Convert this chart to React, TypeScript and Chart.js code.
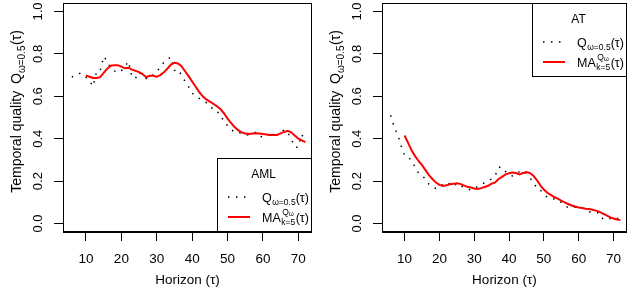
import React, { useEffect, useRef } from "react";
import { Chart, registerables } from "chart.js";

Chart.register(...registerables);

const FONT = "'Liberation Sans', Arial, Helvetica, sans-serif";

// Horizons (tau) for the raw quality series and for the moving average (k = 5)
const horizonsQ = [
  6, 7, 8, 9, 10, 11, 12, 13, 14, 15, 16, 17, 18, 19, 20, 21, 22, 23, 24, 25,
  26, 27, 28, 29, 30, 31, 32, 33, 34, 35, 36, 37, 38, 39, 40, 41, 42, 43, 44, 45,
  46, 47, 48, 49, 50, 51, 52, 53, 54, 55, 56, 57, 58, 59, 60, 61, 62, 63, 64, 65,
  66, 67, 68, 69, 70, 71, 72,
];
const horizonsMA = [
  10, 11, 12, 13, 14, 15, 16, 17, 18, 19, 20, 21, 22, 23, 24, 25,
  26, 27, 28, 29, 30, 31, 32, 33, 34, 35, 36, 37, 38, 39, 40, 41, 42, 43, 44, 45,
  46, 47, 48, 49, 50, 51, 52, 53, 54, 55, 56, 57, 58, 59, 60, 61, 62, 63, 64, 65,
  66, 67, 68, 69, 70, 71, 72,
];

// AML panel
const amlQ = [
  0.69, 0.70, 0.707, 0.707, 0.69, 0.672, 0.647, 0.718, 0.72, 0.788,
  0.765, 0.733, 0.72, 0.712, 0.72, 0.74, 0.765, 0.69, 0.685, 0.714,
  0.695, 0.684, 0.70, 0.70, 0.715, 0.74, 0.76, 0.775, 0.785, 0.722,
  0.727, 0.70, 0.67, 0.645, 0.615, 0.60, 0.59, 0.58, 0.57, 0.55,
  0.54, 0.535, 0.50, 0.49, 0.46, 0.445, 0.43, 0.428, 0.427, 0.42,
  0.417, 0.425, 0.43, 0.412, 0.408, 0.41, 0.42, 0.42, 0.418, 0.43,
  0.442, 0.43, 0.40, 0.36, 0.36, 0.42, 0.385,
];
const amlMA = [
  0.698, 0.692, 0.686, 0.686, 0.69, 0.71,
  0.73, 0.744, 0.747, 0.747, 0.74, 0.732, 0.735, 0.726, 0.72, 0.714,
  0.705, 0.69, 0.697, 0.697, 0.692, 0.70, 0.713, 0.73, 0.75, 0.758,
  0.755, 0.742, 0.718, 0.695, 0.67, 0.645, 0.62, 0.60, 0.585, 0.575,
  0.565, 0.553, 0.54, 0.52, 0.495, 0.475, 0.455, 0.44, 0.43, 0.425,
  0.422, 0.424, 0.426, 0.424, 0.422, 0.42, 0.418, 0.417, 0.418, 0.425,
  0.432, 0.437, 0.43, 0.415, 0.40, 0.392, 0.384,
];

// AT panel
const atQ = [
  0.51, 0.455, 0.42, 0.365, 0.32, 0.31, 0.30, 0.265, 0.238, 0.225,
  0.21, 0.185, 0.172, 0.165, 0.175, 0.185, 0.195, 0.185, 0.175, 0.19,
  0.18, 0.17, 0.163, 0.158, 0.165, 0.175, 0.185, 0.192, 0.20, 0.21,
  0.225, 0.265, 0.265, 0.245, 0.23, 0.225, 0.24, 0.244, 0.25, 0.235,
  0.215, 0.197, 0.165, 0.158, 0.135, 0.125, 0.118, 0.116, 0.114, 0.10,
  0.085, 0.075, 0.076, 0.077, 0.076, 0.074, 0.065, 0.055, 0.053, 0.051,
  0.05, 0.02, 0.022, 0.024, 0.03, 0.025, 0.022,
];
const atMA = [
  0.415, 0.38, 0.345, 0.318, 0.295, 0.275,
  0.252, 0.228, 0.21, 0.193, 0.182, 0.177, 0.18, 0.185, 0.187, 0.19,
  0.187, 0.18, 0.173, 0.17, 0.165, 0.163, 0.167, 0.172, 0.178, 0.188,
  0.194, 0.21, 0.22, 0.232, 0.237, 0.24, 0.238, 0.232, 0.238, 0.243,
  0.238, 0.225, 0.205, 0.18, 0.16, 0.145, 0.135, 0.125, 0.117, 0.108,
  0.10, 0.092, 0.085, 0.08, 0.076, 0.073, 0.07, 0.068, 0.065, 0.061,
  0.055, 0.047, 0.038, 0.03, 0.024, 0.019, 0.016,
];

const xTicks = [10, 20, 30, 40, 50, 60, 70];
const yTicks = [0, 0.2, 0.4, 0.6, 0.8, 1.0];
const yTickLabels = ["0.0", "0.2", "0.4", "0.6", "0.8", "1.0"];

const Q_DASH = [1.5, 6.5];

type PanelSpec = {
  name: string;
  q: number[];
  ma: number[];
  legendAt: "top" | "bottom";
  left: number;
  width: number;
  padRight: number;
};

function font(size: number) {
  return `${size}px ${FONT}`;
}

function makeDecor(spec: PanelSpec) {
  return {
    id: "decor-" + spec.name,
    afterDraw(chart: any) {
      const ctx: CanvasRenderingContext2D = chart.ctx;
      const a = chart.chartArea;
      const yScale = chart.scales.y;
      ctx.save();
      ctx.fillStyle = "#000";
      ctx.strokeStyle = "#000";

      // frame
      ctx.lineWidth = 1;
      ctx.setLineDash([]);
      const L = Math.round(a.left) + 0.5;
      const T = Math.round(a.top) + 0.5;
      const R = Math.round(a.right) - 0.5;
      const B = Math.round(a.bottom) - 0.5;
      ctx.strokeRect(L, T, R - L, B - T);

      // rotated y tick labels
      ctx.font = font(13);
      ctx.textAlign = "center";
      ctx.textBaseline = "middle";
      yTicks.forEach((v, i) => {
        const py = yScale.getPixelForValue(v);
        ctx.save();
        ctx.translate(a.left - 25, py);
        ctx.rotate(-Math.PI / 2);
        ctx.fillText(yTickLabels[i], 0, 0);
        ctx.restore();
      });

      // rotated y title: Temporal quality  Q_{w=0.5}(tau)
      const parts = [
        { t: "Temporal quality ", s: 14, dy: 0 },
        { t: "Q", s: 14, dy: 0, gap: 3 },
        { t: "\u03c9=0.5", s: 10, dy: 3.5 },
        { t: "(\u03c4)", s: 14, dy: 0, gap: 0.5 },
      ];
      ctx.textAlign = "left";
      ctx.textBaseline = "alphabetic";
      let total = 0;
      parts.forEach((p: any) => {
        ctx.font = font(p.s);
        total += ctx.measureText(p.t).width + (p.gap || 0);
      });
      ctx.save();
      ctx.translate(a.left - 42, (a.top + a.bottom) / 2 - 6);
      ctx.rotate(-Math.PI / 2);
      let cx = -total / 2;
      parts.forEach((p: any) => {
        ctx.font = font(p.s);
        cx += p.gap || 0;
        ctx.fillText(p.t, cx, p.dy);
        cx += ctx.measureText(p.t).width;
      });
      ctx.restore();

      // legend box
      const bw = 95;
      const bh = 74;
      const bx = Math.round(a.right) - bw;
      const by = spec.legendAt === "top" ? Math.round(a.top) : Math.round(a.bottom) - bh;
      ctx.fillStyle = "#fff";
      ctx.fillRect(bx, by, bw, bh);
      ctx.fillStyle = "#000";
      ctx.strokeRect(bx + 0.5, by + 0.5, bw - 1, bh - 1);

      ctx.font = font(12);
      ctx.textAlign = "center";
      ctx.textBaseline = "middle";
      ctx.fillText(spec.name, bx + bw / 2 - 1, by + 17);

      const row1 = by + 39;
      const row2 = by + 59;
      // dotted sample
      ctx.save();
      ctx.lineWidth = 1.5;
      ctx.setLineDash(Q_DASH);
      ctx.beginPath();
      ctx.moveTo(bx + 11, row1);
      ctx.lineTo(bx + 33, row1);
      ctx.stroke();
      ctx.restore();
      // red sample
      ctx.save();
      ctx.lineWidth = 2;
      ctx.strokeStyle = "#ff0000";
      ctx.beginPath();
      ctx.moveTo(bx + 11, row2);
      ctx.lineTo(bx + 33, row2);
      ctx.stroke();
      ctx.restore();

      ctx.textAlign = "left";
      ctx.textBaseline = "alphabetic";
      const tx = bx + 45;
      // Q_{w=0.5}(tau)
      let base = row1 + 4.5;
      let x = tx;
      ctx.font = font(12.5);
      ctx.fillText("Q", x, base);
      x += ctx.measureText("Q").width + 0.5;
      ctx.font = font(8.5);
      ctx.fillText("\u03c9=0.5", x, base + 3);
      x += ctx.measureText("\u03c9=0.5").width;
      ctx.font = font(12.5);
      ctx.fillText("(\u03c4)", x, base);

      // MA^{Q_w}_{k=5}(tau)
      base = row2 + 4.5;
      x = tx;
      ctx.font = font(12.5);
      ctx.fillText("MA", x, base);
      x += ctx.measureText("MA").width + 0.5;
      ctx.font = font(8.5);
      ctx.fillText("Q", x + 1, base - 7);
      const wq = ctx.measureText("Q").width;
      ctx.font = font(6.5);
      ctx.fillText("\u03c9", x + 1 + wq, base - 5.5);
      const ww = ctx.measureText("\u03c9").width;
      ctx.font = font(8.5);
      ctx.fillText("k=5", x, base + 3.5);
      const wk = ctx.measureText("k=5").width;
      x += Math.max(wq + ww + 1, wk) + 0.5;
      ctx.font = font(12.5);
      ctx.fillText("(\u03c4)", x, base);

      ctx.restore();
    },
  };
}

function Panel({ spec }: { spec: PanelSpec }) {
  const ref = useRef<HTMLCanvasElement>(null);
  useEffect(() => {
    if (!ref.current) return;
    const chart = new Chart(ref.current, {
      type: "line",
      data: {
        datasets: [
          {
            label: "Q",
            data: horizonsQ.map((h, i) => ({ x: h, y: spec.q[i] })),
            borderColor: "#000",
            borderWidth: 1.5,
            borderDash: Q_DASH,
            pointRadius: 0,
            tension: 0,
            fill: false,
            order: 2,
          },
          {
            label: "MA",
            data: horizonsMA.map((h, i) => ({ x: h, y: spec.ma[i] })),
            borderColor: "#ff0000",
            borderWidth: 2,
            pointRadius: 0,
            tension: 0,
            fill: false,
            order: 1,
          },
        ],
      },
      options: {
        animation: false,
        responsive: false,
        devicePixelRatio: 1,
        layout: { padding: { top: 3, right: spec.padRight, left: 0, bottom: 0 } },
        plugins: { legend: { display: false }, tooltip: { enabled: false } },
        scales: {
          x: {
            type: "linear",
            min: 3.5,
            max: 73.85,
            afterBuildTicks: (s: any) => {
              s.ticks = xTicks.map((v) => ({ value: v }));
            },
            afterFit: (s: any) => {
              s.height = 67;
            },
            grid: { drawOnChartArea: false, drawTicks: true, tickLength: 9, color: "#000", lineWidth: 1 },
            border: { display: true, color: "#000" },
            ticks: {
              color: "#000",
              font: { family: FONT, size: 13.5 },
              padding: 10,
              maxRotation: 0,
              autoSkip: false,
            },
            title: {
              display: true,
              text: "Horizon (\u03c4)",
              color: "#000",
              font: { family: FONT, size: 13.5 },
              padding: { top: 0, bottom: 11 },
            },
          },
          y: {
            type: "linear",
            min: -0.04,
            max: 1.04,
            afterBuildTicks: (s: any) => {
              s.ticks = yTicks.map((v) => ({ value: v }));
            },
            afterFit: (s: any) => {
              s.width = 63;
            },
            grid: { drawOnChartArea: false, drawTicks: true, tickLength: 9, color: "#000", lineWidth: 1 },
            border: { display: true, color: "#000" },
            ticks: { display: false },
          },
        },
      } as any,
      plugins: [makeDecor(spec)],
    });
    return () => chart.destroy();
  }, [spec]);
  return (
    <canvas
      ref={ref}
      width={spec.width}
      height={299}
      style={{ position: "absolute", left: spec.left, top: 0, width: spec.width, height: 299 }}
    />
  );
}

const panels: PanelSpec[] = [
  { name: "AML", q: amlQ, ma: amlMA, legendAt: "bottom", left: 0, width: 316, padRight: 4 },
  { name: "AT", q: atQ, ma: atMA, legendAt: "top", left: 319, width: 312, padRight: 1 },
];

export default function App() {
  return (
    <div style={{ position: "fixed", left: 0, top: 0, width: 631, height: 299, background: "#fff" }}>
      {panels.map((p) => (
        <Panel key={p.name} spec={p} />
      ))}
    </div>
  );
}
